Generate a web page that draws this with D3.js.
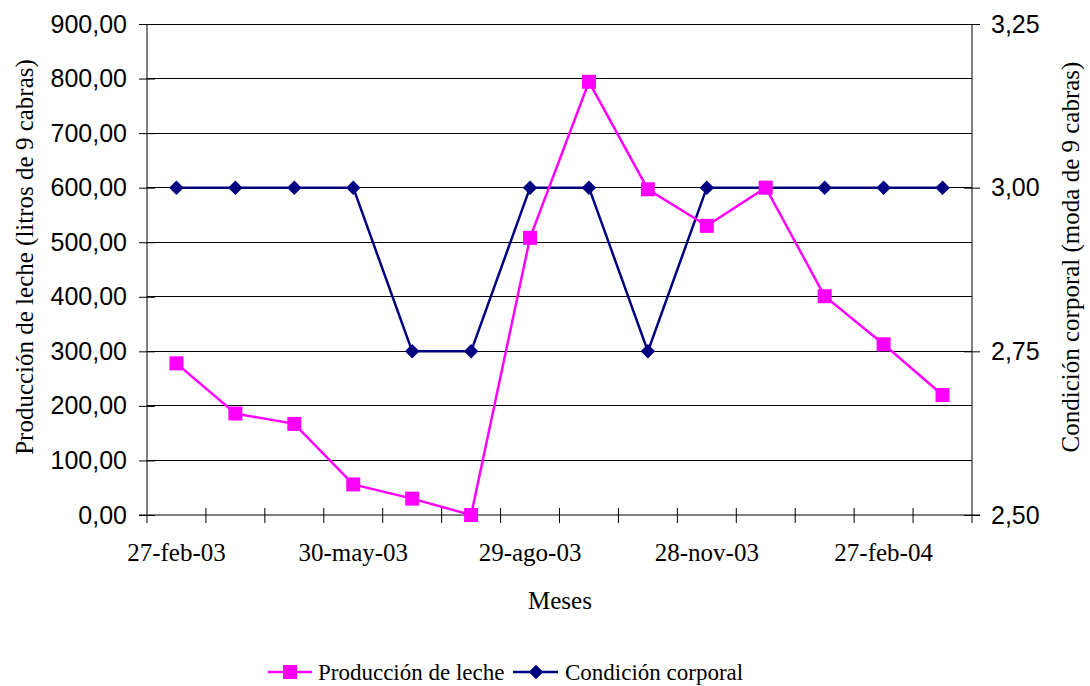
<!DOCTYPE html>
<html lang="es">
<head>
<meta charset="UTF-8">
<title>Producción de leche y condición corporal</title>
<style>
  body {margin: 0; background: #fff;}
  .tick text {font-family: "Liberation Sans", Arial, sans-serif; font-size: 25px; fill: #000;}
  .xaxis .tick text {font-family: "Liberation Serif", "Times New Roman", serif; font-size: 25px;}
  .title {font-family: "Liberation Serif", "Times New Roman", serif; font-size: 25px; fill: #000;}
  .legend text {font-family: "Liberation Serif", "Times New Roman", serif; font-size: 23px; fill: #000;}
</style>
</head>
<body>
<div id="chart"></div>
<script src="https://d3js.org/d3.v7.min.js"></script>
<script>
var meses = ["27-feb-03", "29-mar-03", "29-abr-03", "30-may-03", "29-jun-03", "30-jul-03",
             "29-ago-03", "28-sep-03", "29-oct-03", "28-nov-03", "28-dic-03", "28-ene-04",
             "27-feb-04", "28-mar-04"];
var leche = [278, 186, 167, 56, 30, 0, 508, 794, 597, 530, 600, 401, 313, 220];
var condicion = [3, 3, 3, 3, 2.75, 2.75, 3, 3, 2.75, 3, 3, 3, 3, 3];
var lecheTicks = [0, 100, 200, 300, 400, 500, 600, 700, 800, 900];
var condTicks = [2.5, 2.75, 3, 3.25];
var labelMeses = ["27-feb-03", "30-may-03", "29-ago-03", "28-nov-03", "27-feb-04"];

var width = 1090, height = 686;
var mLeft = 147, mRight = 972, mTop = 24, mBottom = 515;

var svg = d3.select("#chart").append("svg")
    .attr("width", width).attr("height", height);

var x = d3.scaleBand().domain(meses).range([mLeft, mRight]).padding(0);
var yL = d3.scaleLinear().domain([0, 900]).range([mBottom, mTop]);
var yR = d3.scaleLinear().domain([2.5, 3.25]).range([mBottom, mTop]);
var fmt = function(v) { return d3.format(".2f")(v).replace(".", ","); };

// gridlines
svg.append("g").selectAll("line").data(lecheTicks.slice(1)).enter().append("line")
    .attr("x1", mLeft).attr("x2", mRight)
    .attr("y1", function(d) { return yL(d); }).attr("y2", function(d) { return yL(d); })
    .attr("stroke", "#000").attr("stroke-width", 1).attr("shape-rendering", "crispEdges");

// left axis
var gl = svg.append("g").attr("transform", "translate(" + mLeft + ",0)")
    .call(d3.axisLeft(yL).tickValues(lecheTicks).tickFormat(fmt).tickSize(8));
gl.selectAll(".tick line").attr("x2", 8).attr("x1", -8);
gl.select(".domain").remove();
gl.append("line").attr("y1", mTop).attr("y2", mBottom + 8).attr("stroke", "#000");
gl.selectAll(".tick text").attr("x", -20);

// right axis
var gr = svg.append("g").attr("transform", "translate(" + mRight + ",0)")
    .call(d3.axisRight(yR).tickValues(condTicks).tickFormat(fmt).tickSize(8));
gr.selectAll(".tick line").attr("x1", -8).attr("x2", 8);
gr.select(".domain").remove();
gr.append("line").attr("y1", mTop).attr("y2", mBottom + 8).attr("stroke", "#000");
gr.selectAll(".tick text").attr("x", 19);

// bottom axis
var gx = svg.append("g").attr("class", "xaxis").attr("transform", "translate(0," + mBottom + ")");
gx.append("line").attr("x1", mLeft - 8).attr("x2", mRight + 8).attr("stroke", "#000");
gx.selectAll(".bt").data(meses.slice(1)).enter().append("line")
    .attr("x1", function(d) { return x(d); }).attr("x2", function(d) { return x(d); })
    .attr("y1", -7).attr("y2", 8).attr("stroke", "#000");
gx.append("g").call(d3.axisBottom(x).tickValues(labelMeses).tickSize(0).tickPadding(28))
    .call(function(g) { g.select(".domain").remove(); });

// titles
svg.append("text").attr("class", "title").attr("text-anchor", "middle")
    .attr("transform", "translate(33,257) rotate(-90)")
    .text("Producción de leche (litros de 9 cabras)");
svg.append("text").attr("class", "title").attr("text-anchor", "middle")
    .attr("transform", "translate(1079,257) rotate(-90)")
    .text("Condición corporal (moda de 9 cabras)");
svg.append("text").attr("class", "title").attr("text-anchor", "middle")
    .attr("x", 560).attr("y", 609).text("Meses");

var cx = function(d, i) { return x(meses[i]) + x.bandwidth() / 2; };

// condición corporal
svg.append("path").datum(condicion)
    .attr("fill", "none").attr("stroke", "#000080").attr("stroke-width", 2.5)
    .attr("d", d3.line().x(cx).y(function(d) { return yR(d); }));
svg.append("g").selectAll("path").data(condicion).enter().append("path")
    .attr("d", d3.symbol().type(d3.symbolSquare).size(105))
    .attr("fill", "#000080")
    .attr("transform", function(d, i) { return "translate(" + cx(d, i) + "," + yR(d) + ") rotate(45)"; });

// producción de leche
svg.append("path").datum(leche)
    .attr("fill", "none").attr("stroke", "#FF00FF").attr("stroke-width", 2.5)
    .attr("d", d3.line().x(cx).y(function(d) { return yL(d); }));
svg.append("g").selectAll("rect").data(leche).enter().append("rect")
    .attr("x", function(d, i) { return cx(d, i) - 7; })
    .attr("y", function(d) { return yL(d) - 7; })
    .attr("width", 14).attr("height", 14).attr("fill", "#FF00FF");

// legend
var lg = svg.append("g").attr("class", "legend");
lg.append("line").attr("x1", 268).attr("x2", 312).attr("y1", 672).attr("y2", 672)
    .attr("stroke", "#FF00FF").attr("stroke-width", 2.5);
lg.append("rect").attr("x", 283).attr("y", 665).attr("width", 14).attr("height", 14).attr("fill", "#FF00FF");
lg.append("text").attr("x", 318).attr("y", 680).text("Producción de leche");
lg.append("line").attr("x1", 513).attr("x2", 558).attr("y1", 672).attr("y2", 672)
    .attr("stroke", "#000080").attr("stroke-width", 2.5);
lg.append("path").attr("d", d3.symbol().type(d3.symbolSquare).size(105))
    .attr("fill", "#000080").attr("transform", "translate(536,672) rotate(45)");
lg.append("text").attr("x", 565).attr("y", 680).text("Condición corporal");
</script>
</body>
</html>
